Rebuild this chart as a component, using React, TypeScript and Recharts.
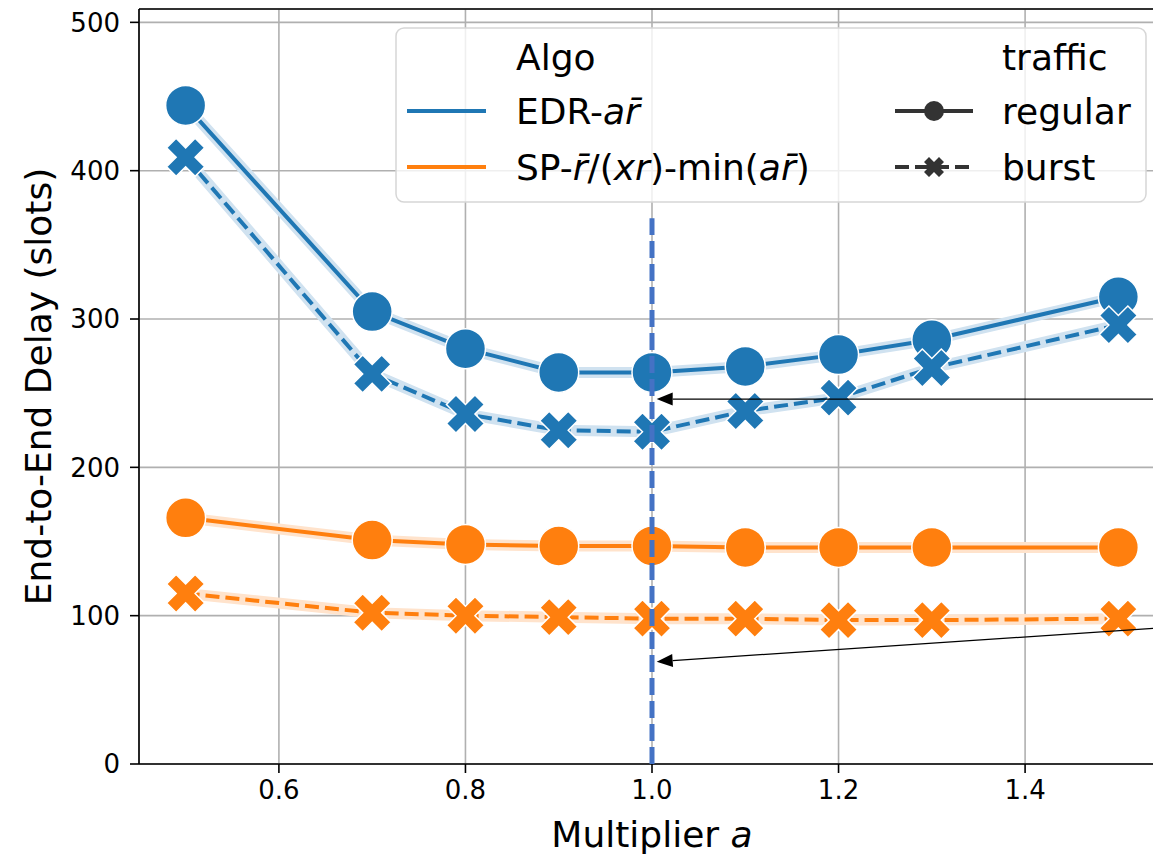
import { LineChart, Line, XAxis, YAxis, CartesianGrid, ReferenceLine, Legend } from 'recharts';

const multipliers = [0.5, 0.7, 0.8, 0.9, 1.0, 1.1, 1.2, 1.3, 1.5];
const edrRegular = [444, 305, 280, 264, 264, 268, 276, 286, 315];
const edrBurst = [409, 263, 236, 225, 224, 238, 247, 267, 296];
const spRegular = [166, 151, 148, 147, 147, 146, 146, 146, 146];
const spBurst = [115, 102, 100, 99, 98, 98, 97, 97, 98];

const xTicks = [0.6, 0.8, 1.0, 1.2, 1.4];
const yTicks = [0, 100, 200, 300, 400, 500];

// vertical marker at a = 1 and the two annotation arrows (text is off the picture)
const markerX = 1.0;
const markerTop = 368;
const arrowUpper = { fromX: 1.55, fromY: 246, toX: 1.005, toY: 246 };
const arrowLower = { fromX: 1.55, fromY: 92, toX: 1.005, toY: 69 };

const BLUE = '#1f77b4';
const ORANGE = '#ff7f0e';
const FONT = '"DejaVu Sans", sans-serif';

const data = multipliers.map((m, i) => ({
  m,
  edrR: edrRegular[i],
  edrB: edrBurst[i],
  spR: spRegular[i],
  spB: spBurst[i],
}));

function xPath(cx: number, cy: number, s: number) {
  const pts = [
    [0.25, 0], [0.5, 0.25], [0.75, 0], [1, 0.25], [0.75, 0.5], [1, 0.75],
    [0.75, 1], [0.5, 0.75], [0.25, 1], [0, 0.75], [0.25, 0.5], [0, 0.25],
  ];
  return 'M' + pts.map(([px, py]) => `${cx + (px - 0.5) * s},${cy + (py - 0.5) * s}`).join('L') + 'Z';
}

const circleDot = (color: string) => (props: any) => (
  <circle key={`c-${props.index}`} cx={props.cx} cy={props.cy} r={20} fill={color} stroke="#fff" strokeWidth={1.5} />
);

const crossDot = (color: string) => (props: any) => (
  <path key={`x-${props.index}`} d={xPath(props.cx, props.cy, 38)} fill={color} stroke="#fff" strokeWidth={1.5} />
);

const Arrow = (props: any) => {
  const { x1, y1, x2, y2 } = props;
  const ang = Math.atan2(y2 - y1, x2 - x1);
  const len = 16;
  const half = 6.5;
  const bx = x2 - len * Math.cos(ang);
  const by = y2 - len * Math.sin(ang);
  const px = -Math.sin(ang) * half;
  const py = Math.cos(ang) * half;
  return (
    <g>
      <line x1={x1} y1={y1} x2={bx} y2={by} stroke="#000" strokeWidth={1.3} />
      <polygon points={`${x2},${y2} ${bx + px},${by + py} ${bx - px},${by - py}`} fill="#000" />
    </g>
  );
};

const XTitle = (props: any) => {
  const vb = props.viewBox || {};
  return (
    <text x={vb.x + vb.width / 2} y={vb.y + 83} textAnchor="middle" fontFamily={FONT} fontSize={36} fill="#000">
      Multiplier <tspan fontStyle="italic">a</tspan>
    </text>
  );
};

const YTitle = (props: any) => {
  const vb = props.viewBox || {};
  const cx = vb.x + 38;
  const cy = vb.y + vb.height / 2;
  return (
    <text
      x={cx}
      y={cy}
      transform={`rotate(-90 ${cx} ${cy})`}
      textAnchor="middle"
      dominantBaseline="central"
      fontFamily={FONT}
      fontSize={36}
      fill="#000"
    >
      End-to-End Delay (slots)
    </text>
  );
};

function LegendBox() {
  const txt = { fontFamily: FONT, fontSize: 36, fill: '#000' };
  return (
    <svg width={752} height={176} style={{ display: 'block' }}>
      <rect x={1} y={1} width={750} height={174} rx={8} fill="rgba(255,255,255,0.8)" stroke="#d6d6d6" strokeWidth={1.5} />
      <text x={121} y={43} {...txt}>Algo</text>
      <line x1={12} y1={84} x2={91} y2={84} stroke={BLUE} strokeWidth={4} />
      <text x={121} y={97} {...txt}>
        EDR-<tspan fontStyle="italic">ar&#772;</tspan>
      </text>
      <line x1={12} y1={140} x2={91} y2={140} stroke={ORANGE} strokeWidth={4} />
      <text x={121} y={153} {...txt}>
        SP-<tspan fontStyle="italic">r&#772;</tspan>/(<tspan fontStyle="italic">xr</tspan>)-min(<tspan fontStyle="italic">ar&#772;</tspan>)
      </text>
      <text x={607} y={43} {...txt}>traffic</text>
      <line x1={500} y1={84} x2={578} y2={84} stroke="#333" strokeWidth={4} />
      <circle cx={539} cy={84} r={10} fill="#333" />
      <text x={607} y={97} {...txt}>regular</text>
      <line x1={500} y1={140} x2={578} y2={140} stroke="#333" strokeWidth={4} strokeDasharray="14 6" />
      <path d={xPath(539, 140, 20)} fill="#333" />
      <text x={607} y={153} {...txt}>burst</text>
    </svg>
  );
}

export default function App() {
  const tickStyle = { fontFamily: FONT, fontSize: 26, fill: '#000' };
  return (
    <div style={{ position: 'absolute', left: 0, top: 0, width: 1153, height: 858, overflow: 'hidden', background: '#fff' }}>
      <LineChart width={1170} height={858} data={data} margin={{ top: 9, right: 5, bottom: 0, left: 0 }}>
        <CartesianGrid stroke="#b0b0b0" strokeWidth={1.6} />
        <XAxis
          dataKey="m"
          type="number"
          domain={[0.45, 1.55]}
          ticks={xTicks}
          allowDataOverflow
          tickFormatter={(v: number) => v.toFixed(1)}
          tick={tickStyle}
          tickSize={9}
          tickMargin={8}
          height={94}
          stroke="#000"
          strokeWidth={1.6}
          label={{ content: XTitle }}
        />
        <YAxis
          type="number"
          domain={[0, 509]}
          ticks={yTicks}
          allowDataOverflow
          tick={tickStyle}
          tickSize={9}
          tickMargin={10}
          width={139}
          stroke="#000"
          strokeWidth={1.6}
          label={{ content: YTitle }}
        />
        <ReferenceLine y={509} stroke="#000" strokeWidth={1.6} />
        <Legend
          layout="horizontal"
          verticalAlign="middle"
          align="center"
          content={() => <LegendBox />}
          wrapperStyle={{ position: 'absolute', left: 395, top: 27, width: 752, height: 176 }}
        />

        <Line dataKey="edrR" stroke="#d0e2f0" strokeWidth={11} dot={false} legendType="none" isAnimationActive={false} />
        <Line dataKey="edrB" stroke="#d0e2f0" strokeWidth={11} dot={false} legendType="none" isAnimationActive={false} />
        <Line dataKey="spR" stroke="#ffe3cc" strokeWidth={11} dot={false} legendType="none" isAnimationActive={false} />
        <Line dataKey="spB" stroke="#ffe3cc" strokeWidth={11} dot={false} legendType="none" isAnimationActive={false} />

        <Line dataKey="edrR" stroke={BLUE} strokeWidth={4} dot={circleDot(BLUE)} activeDot={false} isAnimationActive={false} />
        <Line dataKey="edrB" stroke={BLUE} strokeWidth={4} strokeDasharray="14 6" dot={crossDot(BLUE)} activeDot={false} isAnimationActive={false} />
        <Line dataKey="spR" stroke={ORANGE} strokeWidth={4} dot={circleDot(ORANGE)} activeDot={false} isAnimationActive={false} />
        <Line dataKey="spB" stroke={ORANGE} strokeWidth={4} strokeDasharray="14 6" dot={crossDot(ORANGE)} activeDot={false} isAnimationActive={false} />

        <ReferenceLine
          segment={[{ x: markerX, y: 0 }, { x: markerX, y: markerTop }]}
          stroke="#4472c4"
          strokeWidth={5}
          strokeDasharray="17 6"
          zIndex={2000}
        />
        <ReferenceLine
          segment={[{ x: arrowUpper.fromX, y: arrowUpper.fromY }, { x: arrowUpper.toX, y: arrowUpper.toY }]}
          shape={Arrow}
          ifOverflow="visible"
          zIndex={2000}
        />
        <ReferenceLine
          segment={[{ x: arrowLower.fromX, y: arrowLower.fromY }, { x: arrowLower.toX, y: arrowLower.toY }]}
          shape={Arrow}
          ifOverflow="visible"
          zIndex={2000}
        />
      </LineChart>
    </div>
  );
}
